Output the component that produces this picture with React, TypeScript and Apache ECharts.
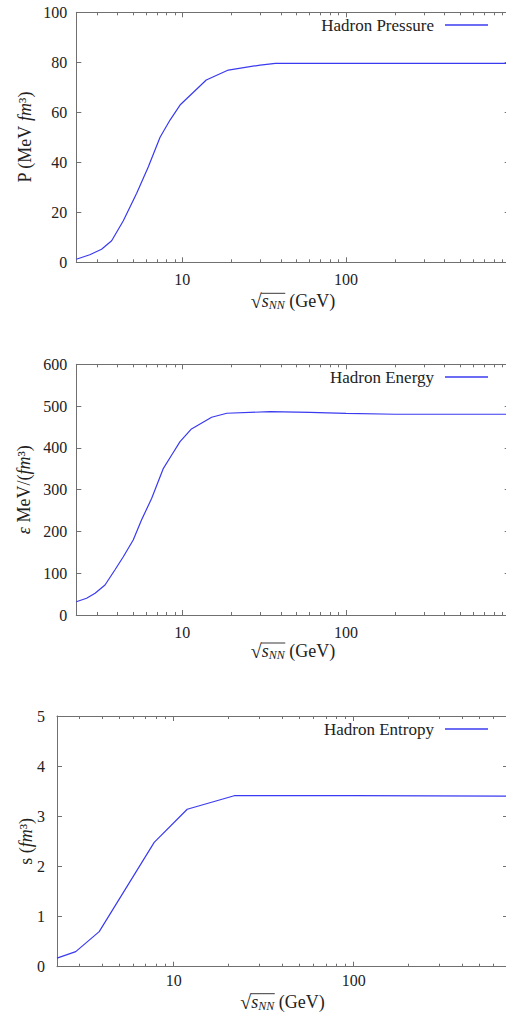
import React, { useEffect, useRef } from "react";
import * as echarts from "echarts";

// Pressure panel
const pressureX = [2.25, 2.72, 3.21, 3.7, 4.36, 5.26, 6.2, 7.31, 8.41, 9.68, 14.0, 19.1, 29.9, 37, 100, 1000];
const pressureY = [1.2, 3.0, 5.2, 8.6, 16.6, 27.6, 38.2, 50.0, 56.9, 62.9, 72.9, 76.9, 78.9, 79.6, 79.6, 79.6];

// Energy panel
const energyX = [2.25, 2.6, 2.93, 3.37, 3.87, 4.36, 5.01, 5.63, 6.5, 7.66, 8.61, 9.68, 11.3, 15.1, 18.7, 34.4, 60, 100, 200, 1000];
const energyY = [31.8, 40, 52, 71.8, 107.7, 139.5, 179.5, 227.4, 279.3, 351, 383, 414.8, 444.5, 473.2, 482.8, 486.6, 485, 482.5, 480.4, 480.4];

// Entropy panel
const entropyX = [2.25, 2.86, 3.86, 7.8, 11.9, 21.7, 100, 720];
const entropyY = [0.17, 0.3, 0.7, 2.48, 3.14, 3.41, 3.41, 3.4];

const majorXTicks = [10, 100, 1000];
const minorXTicks = [3, 4, 5, 6, 7, 8, 9, 20, 30, 40, 50, 60, 70, 80, 90, 200, 300, 400, 500, 600, 700, 800, 900];

const seriesNames = ["Hadron Pressure", "Hadron Energy", "Hadron Entropy"];
const yNames = ["P (MeV {it|fm}³)", "{it|ε} MeV/({it|fm}³)", "s ({it|fm}³)"];
const yMax = [100, 600, 5];
const yInterval = [20, 100, 1];
const xMin = [2.25, 2.25, 2.25];
const xMax = [1000, 1000, 720];

const FONT = "Liberation Serif";
const AXIS_COLOR = "#707070";
const TEXT_COLOR = "#222";
const LINE_COLOR = "#3a3af0";
const FS = 16;
const NAME_FS = 18;
const ROOT_FS = 20;
const SUB_FS = 12;

const plots = [
  { left: 76.3, top: 12.3, width: 433.4, height: 250 },
  { left: 76.3, top: 364.3, width: 433.4, height: 250.7 },
  { left: 57, top: 716, width: 451, height: 250.7 },
];
const yLabelMargin = [9, 9, 12];
const xLabelMargin = [9, 9, 6];
const yNameGap = [42, 43, 22];
const xNameGap = [29, 26, 25];
const legendTop = [11.5, 363.5, 715.5];

export default function App() {
  const ref = useRef<HTMLDivElement>(null);
  useEffect(() => {
    if (!ref.current) return;
    const chart = echarts.init(ref.current, undefined, { renderer: "svg" });
    const datasets = [
      [pressureX, pressureY],
      [energyX, energyY],
      [entropyX, entropyY],
    ];
    const n = plots.length;
    // grids 0..n-1 hold the data; grids n..2n-1 (same rectangles) carry the minor x ticks
    const grids = [...plots, ...plots];
    const xAxes: any[] = [];
    const yAxes: any[] = [];
    const series: any[] = [];
    const legends: any[] = [];
    const richX = {
      r: { fontFamily: FONT, fontSize: ROOT_FS, color: TEXT_COLOR },
      n: { fontFamily: FONT, fontSize: NAME_FS, color: TEXT_COLOR },
      it: { fontFamily: FONT, fontSize: NAME_FS, fontStyle: "italic", color: TEXT_COLOR },
      sub: { fontFamily: FONT, fontSize: SUB_FS, fontStyle: "italic", color: TEXT_COLOR, padding: [8, 0, 0, 0] },
    };
    const richY = {
      it: { fontFamily: FONT, fontSize: NAME_FS, fontStyle: "italic", color: TEXT_COLOR },
    };
    const tickLine = { color: AXIS_COLOR, width: 1 };
    const logBase = (i: number, gridIndex: number) => ({
      type: "log",
      logBase: 10,
      gridIndex,
      min: xMin[i],
      max: xMax[i],
      splitLine: { show: false },
    });
    plots.forEach((g, i) => {
      xAxes.push({
        ...logBase(i, i),
        position: "bottom",
        name: "{r|√}{it|s}{sub|NN}{n| (GeV)}",
        nameLocation: "middle",
        nameGap: xNameGap[i],
        nameMoveOverlap: false,
        nameTextStyle: { fontFamily: FONT, fontSize: NAME_FS, color: TEXT_COLOR, rich: richX },
        axisLine: { show: true, onZero: false, lineStyle: tickLine },
        axisTick: { show: true, inside: true, length: 5, customValues: majorXTicks, lineStyle: tickLine },
        axisLabel: {
          show: true,
          customValues: majorXTicks.filter((v) => v < xMax[i]),
          margin: xLabelMargin[i],
          fontFamily: FONT,
          fontSize: FS,
          color: TEXT_COLOR,
          formatter: (v: number) => String(Math.round(v)),
        },
      });
      xAxes.push({
        ...logBase(i, i),
        position: "top",
        axisLine: { show: true, onZero: false, lineStyle: tickLine },
        axisTick: { show: true, inside: true, length: 5, customValues: majorXTicks, lineStyle: tickLine },
        axisLabel: { show: false },
      });
      yAxes.push({
        type: "value",
        gridIndex: i,
        position: "left",
        min: 0,
        max: yMax[i],
        interval: yInterval[i],
        name: yNames[i],
        nameLocation: "middle",
        nameRotate: 90,
        nameGap: yNameGap[i],
        nameMoveOverlap: false,
        nameTextStyle: { fontFamily: FONT, fontSize: NAME_FS, color: TEXT_COLOR, rich: richY },
        splitLine: { show: false },
        axisLine: { show: true, onZero: false, lineStyle: tickLine },
        axisTick: { show: true, inside: true, length: 5, lineStyle: tickLine },
        axisLabel: { margin: yLabelMargin[i], fontFamily: FONT, fontSize: FS, color: TEXT_COLOR },
      });
      yAxes.push({
        type: "value",
        gridIndex: i,
        position: "right",
        min: 0,
        max: yMax[i],
        interval: yInterval[i],
        splitLine: { show: false },
        axisLine: { show: true, onZero: false, lineStyle: tickLine },
        axisTick: { show: true, inside: true, length: 5, lineStyle: tickLine },
        axisLabel: { show: false },
      });
      const [xs, ys] = datasets[i];
      series.push({
        type: "line",
        name: seriesNames[i],
        xAxisIndex: i * 2,
        yAxisIndex: i * 2,
        data: xs.map((x, k) => [x, ys[k]]),
        showSymbol: false,
        symbol: "none",
        lineStyle: { color: LINE_COLOR, width: 1.2 },
        itemStyle: { color: LINE_COLOR },
      });
      legends.push({
        data: [seriesNames[i]],
        right: 19,
        top: legendTop[i],
        align: "right",
        icon: "rect",
        itemWidth: 43,
        itemHeight: 1.4,
        textStyle: { fontFamily: FONT, fontSize: 17, color: TEXT_COLOR, padding: [0, 6, 0, 0] },
      });
    });
    // minor tick axes on duplicate grids
    plots.forEach((g, i) => {
      const gi = n + i;
      xAxes.push({
        ...logBase(i, gi),
        position: "bottom",
        axisLine: { show: false, onZero: false },
        axisTick: { show: true, inside: true, length: 3, customValues: minorXTicks, lineStyle: tickLine },
        axisLabel: { show: false },
      });
      xAxes.push({
        ...logBase(i, gi),
        position: "top",
        axisLine: { show: false, onZero: false },
        axisTick: { show: true, inside: true, length: 3, customValues: minorXTicks, lineStyle: tickLine },
        axisLabel: { show: false },
      });
      yAxes.push({
        type: "value",
        gridIndex: gi,
        min: 0,
        max: yMax[i],
        interval: yInterval[i],
        show: false,
      });
    });
    // overline of the square root in each x-axis title
    const rootW = ROOT_FS * 0.549;
    const sW = NAME_FS * 0.389;
    const nnW = SUB_FS * 0.667 * 2;
    const restW = NAME_FS * 2.804;
    const total = rootW + sW + nnW + restW;
    const graphics = plots.map((g, i) => {
      const cx = g.left + g.width / 2;
      const x0 = cx - total / 2 + rootW - 0.5;
      const y = g.top + g.height + xNameGap[i] + 2;
      return {
        type: "line",
        shape: { x1: x0, y1: y, x2: x0 + sW + nnW + 1, y2: y },
        style: { stroke: TEXT_COLOR, lineWidth: 0.9 },
        silent: true,
      };
    });
    chart.setOption({
      animation: false,
      backgroundColor: "#fff",
      grid: grids,
      xAxis: xAxes,
      yAxis: yAxes,
      legend: legends,
      series,
      graphic: graphics,
    });
    return () => chart.dispose();
  }, []);
  return (
    <div style={{ position: "absolute", left: 0, top: 0, width: 506, height: 1016, overflow: "hidden", background: "#fff" }}>
      <div ref={ref} style={{ width: 512, height: 1016 }} />
    </div>
  );
}
